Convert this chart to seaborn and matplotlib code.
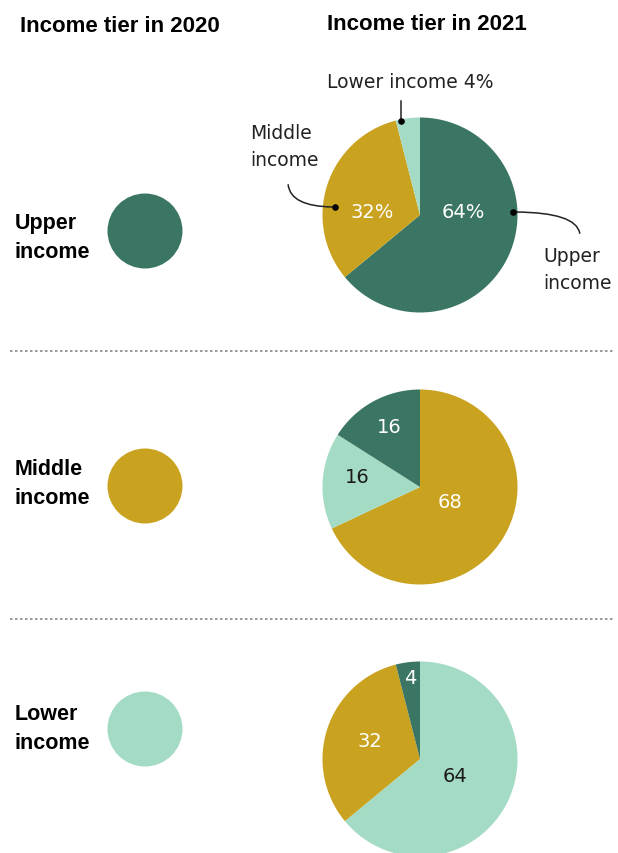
import numpy as np
import pandas as pd
import matplotlib.pyplot as plt
import seaborn as sns

sns.set_theme(style="white")
plt.rcParams['font.family'] = ['DejaVu Sans']

# Data
tiers = ['Upper income', 'Middle income', 'Lower income']
tier_labels = ['Upper\nincome', 'Middle\nincome', 'Lower\nincome']
tier_colors = {'Upper income': '#3b7563', 'Middle income': '#c9a320', 'Lower income': '#a3dbc5'}

# 2021 shares for each 2020 tier, listed clockwise from 12 o'clock
pie_order = [
    ['Upper income', 'Middle income', 'Lower income'],
    ['Middle income', 'Lower income', 'Upper income'],
    ['Lower income', 'Middle income', 'Upper income'],
]
pie_values = [
    [64, 32, 4],
    [68, 16, 16],
    [64, 32, 4],
]
pie_texts = [
    ['64%', '32%', ''],
    ['68', '16', '16'],
    ['64', '32', '4'],
]

# Layout (pixel coords, y measured from the top)
W, H = 618, 854
row_pie_y = [216, 488, 760]
row_dot_y = [232, 487, 730]
row_label_y = [238, 484, 729]
pie_x, pie_r = 420, 97.5
dot_x = 145
# label offsets from pie centre (dx, dy down)
text_offsets = [
    [(43, -4), (-48, -4), (0, 0)],
    [(30, 15), (-63, -10), (-31, -60)],
    [(35, 17), (-50, -18), (-10, -81)],
]


def Y(y):
    return H - y


fig = plt.figure(figsize=(W / 100, H / 100), dpi=100)
ax = fig.add_axes([0, 0, 1, 1])

# 2020 circles
dots = pd.DataFrame({'tier': tiers, 'x': [dot_x] * 3, 'y': [Y(v) for v in row_dot_y]})
sns.scatterplot(data=dots, x='x', y='y', hue='tier', palette=tier_colors, s=2916,
                linewidth=0, legend=False, ax=ax)

for lab, yy in zip(tier_labels, row_label_y):
    ax.text(15, Y(yy), lab, ha='left', va='center', fontsize=15.5, fontweight='bold',
            family=['Liberation Sans', 'DejaVu Sans'], linespacing=1.45, color='black')

# 2021 pies
for i in range(3):
    cy = Y(row_pie_y[i])
    cols = [tier_colors[t] for t in pie_order[i]]
    ax.pie(pie_values[i], colors=cols, startangle=90, counterclock=False,
           center=(pie_x, cy), radius=pie_r, wedgeprops=dict(linewidth=0))
    for t, txt, (dx, dy) in zip(pie_order[i], pie_texts[i], text_offsets[i]):
        if not txt:
            continue
        c = '#1a1a1a' if t == 'Lower income' else 'white'
        ax.text(pie_x + dx, cy - dy, txt, ha='center', va='center', fontsize=14, color=c)

# Annotations on the first pie
ink = '#222222'
ax.text(410, Y(82), 'Lower income 4%', ha='center', va='center', fontsize=13.5, color=ink)
ax.annotate('', xy=(401, Y(122)), xytext=(401, Y(99)),
            arrowprops=dict(arrowstyle='-', color=ink, lw=1.1))
ax.text(250, Y(147), 'Middle\nincome', ha='left', va='center', fontsize=13.5,
        color=ink, linespacing=1.55)
ax.annotate('', xy=(335, Y(208)), xytext=(288, Y(183)),
            arrowprops=dict(arrowstyle='-', color=ink, lw=1.1,
                            connectionstyle='angle3,angleA=90,angleB=0'))
ax.text(543, Y(270), 'Upper\nincome', ha='left', va='center', fontsize=13.5,
        color=ink, linespacing=1.55)
ax.annotate('', xy=(580, Y(237)), xytext=(513, Y(213)),
            arrowprops=dict(arrowstyle='-', color=ink, lw=1.1,
                            connectionstyle='angle3,angleA=0,angleB=90'))
ax.scatter([401, 335, 513], [Y(122), Y(208), Y(213)], s=14, color='black', zorder=5)

# Column titles
ax.text(20, Y(27), 'Income tier in 2020', ha='left', va='center', fontsize=16,
        fontweight='bold', family=['Liberation Sans', 'DejaVu Sans'], color='black')
ax.text(327, Y(24), 'Income tier in 2021', ha='left', va='center', fontsize=16,
        fontweight='bold', family=['Liberation Sans', 'DejaVu Sans'], color='black')

# Dotted separators
for yy in [352, 620]:
    ax.plot([10, 615], [Y(yy), Y(yy)], color='#888888', lw=1.2, ls=(0, (1.5, 1.5)))

ax.set_xlim(0, W)
ax.set_ylim(0, H)
ax.set_aspect('equal')
ax.axis('off')

fig.savefig('out.png', dpi=100)
